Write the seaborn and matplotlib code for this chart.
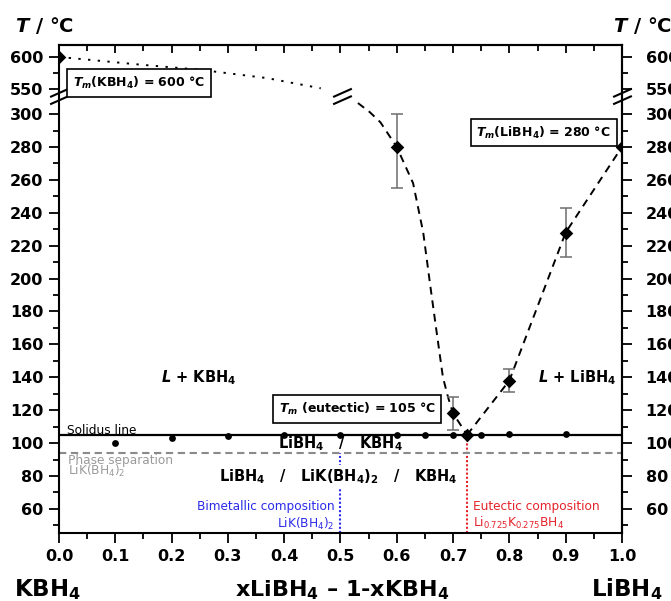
import numpy as np
import matplotlib
matplotlib.use("Agg")
import matplotlib.pyplot as plt
from matplotlib.path import Path
from matplotlib.ticker import FixedLocator
import seaborn as sns

# ---------------------------------------------------------------- data
# composition axis: x in xLiBH4 - (1-x)KBH4
X_MAJOR = [0.0, 0.1, 0.2, 0.3, 0.4, 0.5, 0.6, 0.7, 0.8, 0.9, 1.0]
X_LABELS = ["0.0", "0.1", "0.2", "0.3", "0.4", "0.5", "0.6", "0.7", "0.8", "0.9", "1.0"]
X_MINOR = [0.05, 0.15, 0.25, 0.35, 0.45, 0.55, 0.65, 0.75, 0.85, 0.95]

# temperature axis (broken between 300 and 550 degC)
T_MAJOR = [60, 80, 100, 120, 140, 160, 180, 200, 220, 240, 260, 280, 300, 550, 600]
T_LABELS = [str(t) for t in T_MAJOR]
T_MINOR = [50, 70, 90, 110, 130, 150, 170, 190, 210, 230, 250, 270, 290, 575]

# liquidus events (diamonds) with their uncertainty
LIQ_X = [0.0, 0.6, 0.7, 0.725, 0.8, 0.9, 1.0]
LIQ_T = [600, 280, 118, 105, 138, 228, 280]
LIQ_ERR = [0, 25, 10, 0, 7, 15, 0]

# solidus events (small dots)
SOL_X = [0.1, 0.2, 0.3, 0.4, 0.5, 0.6, 0.65, 0.7, 0.75, 0.8, 0.9]
SOL_T = [100, 103, 104.3, 104.6, 105, 105, 105, 105, 105, 105.5, 105.5]

# guide curves of the liquidus
KBH4_DOT_X = [0.0, 0.144, 0.25, 0.369, 0.465]
KBH4_DOT_T = [600, 588, 580, 567, 551]
KBH4_DASH_X = [0.531, 0.552, 0.571, 0.6, 0.629, 0.647, 0.659, 0.671, 0.682, 0.691, 0.7, 0.725]
KBH4_DASH_T = [410, 320, 295, 280, 258, 228, 197, 167, 140, 128, 118, 105]

T_SOLIDUS = 105
T_PHASE_SEP = 94
X_BIMETALLIC = 0.5
X_EUTECTIC = 0.725

# ---------------------------------------------------------------- style
sns.set_theme(style="ticks")
plt.rcParams.update({
    "font.family": ["DejaVu Sans"],
    "mathtext.fontset": "custom",
    "mathtext.rm": "DejaVu Sans:bold",
    "mathtext.bf": "DejaVu Sans:bold",
    "mathtext.it": "DejaVu Sans:italic:bold",
    "axes.linewidth": 1.5,
    "axes.edgecolor": "black",
    "text.color": "black",
    "axes.labelcolor": "black",
    "xtick.color": "black",
    "ytick.color": "black",
})

BLUE = "#2b2bea"
RED = "#e5232b"
GREY_TXT = "#9a9a9a"
GREY_LINE = "#8a8a8a"

# broken temperature scale: 300..550 squeezed into a short gap,
# 550..620 compressed
GAP = 15.3
K_UP = 0.389


def fwd(t):
    t = np.asarray(t, dtype=float)
    return np.where(t <= 300, t,
                    np.where(t < 550, 300 + (t - 300) * GAP / 250,
                             300 + GAP + (t - 550) * K_UP))


def inv(f):
    f = np.asarray(f, dtype=float)
    return np.where(f <= 300, f,
                    np.where(f < 300 + GAP, 300 + (f - 300) * 250 / GAP,
                             550 + (f - 300 - GAP) / K_UP))


fig = plt.figure(figsize=(6.71, 6.01), dpi=100)
ax = fig.add_axes([0.0879, 0.1131, 0.8390, 0.8120])
ax.set_yscale("function", functions=(fwd, inv))
ax.set_xlim(0.0, 1.0)
YLIM = (45.3, float(inv(342.0)))
ax.set_ylim(*YLIM)

# ---------------------------------------------------------------- lines
ax.axhline(T_SOLIDUS, color="black", lw=1.6, zorder=2)
ax.axhline(T_PHASE_SEP, color=GREY_LINE, lw=1.5, ls=(0, (3.5, 2.2)), zorder=2)
ax.vlines(X_BIMETALLIC, YLIM[0], T_PHASE_SEP, color=BLUE, lw=1.5,
          ls=(0, (1, 1)), zorder=1.5)
ax.vlines(X_EUTECTIC, YLIM[0], T_SOLIDUS, color=RED, lw=1.5,
          ls=(0, (1, 1)), zorder=1.5)

sns.lineplot(x=KBH4_DOT_X, y=KBH4_DOT_T, ax=ax, color="black", lw=1.4,
             linestyle=(0, (1.2, 3.8)), sort=False, estimator=None, zorder=2)
sns.lineplot(x=KBH4_DASH_X, y=KBH4_DASH_T, ax=ax, color="black", lw=1.4,
             linestyle=(0, (4, 3)), sort=False, estimator=None, zorder=2)
# LiBH4-rich branch joins the measured liquidus points
sns.lineplot(x=LIQ_X[3:], y=LIQ_T[3:], ax=ax, color="black", lw=1.4,
             linestyle=(0, (4, 3)), sort=False, estimator=None, zorder=2)

# ---------------------------------------------------------------- points
ex = [x for x, e in zip(LIQ_X, LIQ_ERR) if e > 0]
ey = [t for t, e in zip(LIQ_T, LIQ_ERR) if e > 0]
ee = [e for e in LIQ_ERR if e > 0]
ax.errorbar(ex, ey, yerr=ee, fmt="none", ecolor="#6e6e6e", elinewidth=1.1,
            capsize=4, capthick=1.1, zorder=3)
sns.scatterplot(x=SOL_X, y=SOL_T, ax=ax, color="black", marker="o", s=24,
                edgecolor="black", linewidth=0, zorder=4)
sns.scatterplot(x=LIQ_X, y=LIQ_T, ax=ax, color="black", marker="D", s=48,
                edgecolor="black", linewidth=0, zorder=5)

# axis-break marks "//"
BRK = Path([(-9, -7.5), (9, 0.5), (-9, -0.5), (9, 7.5)],
           [Path.MOVETO, Path.LINETO, Path.MOVETO, Path.LINETO])
t_brk = float(inv(311.2))
ax.plot([0.0, 0.503, 1.0], [t_brk, t_brk, t_brk], ls="none", marker=BRK,
        ms=13.5, mec="black", mew=1.5, mfc="none", clip_on=False, zorder=6)

# ---------------------------------------------------------------- ticks
tick_font = dict(fontsize=11.5, fontweight="bold", color="black")
ax.xaxis.set_major_locator(FixedLocator(X_MAJOR))
ax.xaxis.set_minor_locator(FixedLocator(X_MINOR))
ax.set_xticklabels(X_LABELS, **tick_font)
ax.yaxis.set_major_locator(FixedLocator(T_MAJOR))
ax.yaxis.set_minor_locator(FixedLocator(T_MINOR))
ax.set_yticklabels(T_LABELS, **tick_font)
ax.tick_params(axis="both", which="major", direction="out", length=7,
               width=1.3, pad=4.3, colors="black")
ax.tick_params(axis="both", which="minor", direction="out", length=4.3,
               width=1.3, colors="black")
ax.tick_params(top=False, right=False)
ax.set_xlabel("")
ax.set_ylabel("")

top = ax.secondary_xaxis("top")
top.xaxis.set_major_locator(FixedLocator(X_MAJOR))
top.xaxis.set_minor_locator(FixedLocator(X_MINOR))
top.tick_params(axis="x", which="major", direction="in", length=6, width=1.3,
                labeltop=False, labelbottom=False, colors="black")
top.tick_params(axis="x", which="minor", direction="in", length=4.3,
                width=1.3, labeltop=False, labelbottom=False, colors="black")
top.spines["top"].set_linewidth(1.5)
top.spines["top"].set_color("black")

right = ax.twinx()
right.set_yscale("function", functions=(fwd, inv))
right.set_ylim(*YLIM)
right.yaxis.set_major_locator(FixedLocator(T_MAJOR))
right.yaxis.set_minor_locator(FixedLocator(T_MINOR))
right.set_yticklabels(T_LABELS, **tick_font)
right.tick_params(axis="y", which="major", direction="out", length=7,
                  width=1.3, pad=10, colors="black")
right.tick_params(axis="y", which="minor", direction="out", length=4.3,
                  width=1.3, colors="black")
for s in ("left", "top", "bottom"):
    right.spines[s].set_visible(False)
right.spines["right"].set_linewidth(1.5)
right.spines["right"].set_color("black")
right.grid(False)
ax.grid(False)

# ---------------------------------------------------------------- labels
fig.text(15 / 671, 1 - 25 / 601, r"$T$ / °C", fontsize=14, fontweight="bold",
         ha="left", va="center")
fig.text(613 / 671, 1 - 25 / 601, r"$T$ / °C", fontsize=14, fontweight="bold",
         ha="left", va="center")
fig.text(47 / 671, 1 - 596 / 601, r"KBH$\mathregular{_4}$", fontsize=16.5,
         fontweight="bold", ha="center", va="baseline")
fig.text(342 / 671, 1 - 596 / 601,
         r"xLiBH$\mathregular{_4}$ – 1-xKBH$\mathregular{_4}$",
         fontsize=16, fontweight="bold", ha="center", va="baseline")
fig.text(627 / 671, 1 - 596 / 601, r"LiBH$\mathregular{_4}$", fontsize=16.5,
         fontweight="bold", ha="center", va="baseline")

boxed = dict(boxstyle="square,pad=0.45", fc="white", ec="black", lw=1.2)
ax.text(0.0249, 559.4, r"$T_m$(KBH$\mathregular{_4}$) = 600 °C", fontsize=9,
        fontweight="bold", ha="left", va="center", bbox=boxed, zorder=7)
ax.text(0.861, 288.8, r"$T_m$(LiBH$\mathregular{_4}$) = 280 °C", fontsize=9,
        fontweight="bold", ha="center", va="center", bbox=boxed, zorder=7)
ax.text(0.530, 120.7, r"$T_m$ (eutectic) = 105 °C", fontsize=9,
        fontweight="bold", ha="center", va="center", bbox=boxed, zorder=7)

ax.text(0.249, 139.5, r"$L$ + KBH$\mathregular{_4}$", fontsize=10.5,
        fontweight="bold", ha="center", va="center")
ax.text(0.921, 139.5, r"$L$ + LiBH$\mathregular{_4}$", fontsize=10.5,
        fontweight="bold", ha="center", va="center")
ax.text(0.5, 97, r"LiBH$\mathregular{_4}$   /   KBH$\mathregular{_4}$",
        fontsize=10.5, fontweight="bold", ha="center", va="baseline")
ax.text(0.497, 77,
        r"LiBH$\mathregular{_4}$   /   LiK(BH$\mathregular{_4}$)$\mathregular{_2}$   /   KBH$\mathregular{_4}$",
        fontsize=10.5, fontweight="bold", ha="center", va="baseline",
        bbox=dict(boxstyle="square,pad=0.15", fc="white", ec="none"),
        zorder=6)

small = dict(fontsize=8.7, fontweight="normal")
ax.text(0.015, 105.8, "Solidus line", color="black", ha="left",
        va="baseline", **small)
ax.text(0.016, 87.4, "Phase separation", color=GREY_TXT, ha="left",
        va="baseline", **small)
ax.text(0.016, 80.6, r"LiK(BH$\mathregular{_4}$)$\mathregular{_2}$",
        color=GREY_TXT, ha="left", va="baseline", **small)
ax.text(0.490, 59.2, "Bimetallic composition", color=BLUE, ha="right",
        va="baseline", **small)
ax.text(0.490, 48.3, r"LiK(BH$\mathregular{_4}$)$\mathregular{_2}$",
        color=BLUE, ha="right", va="baseline", **small)
ax.text(0.735, 59.2, "Eutectic composition", color=RED, ha="left",
        va="baseline", **small)
ax.text(0.735, 49.1,
        r"Li$\mathregular{_{0.725}}$K$\mathregular{_{0.275}}$BH$\mathregular{_4}$",
        color=RED, ha="left", va="baseline", **small)

fig.savefig("out.png", dpi=100)
